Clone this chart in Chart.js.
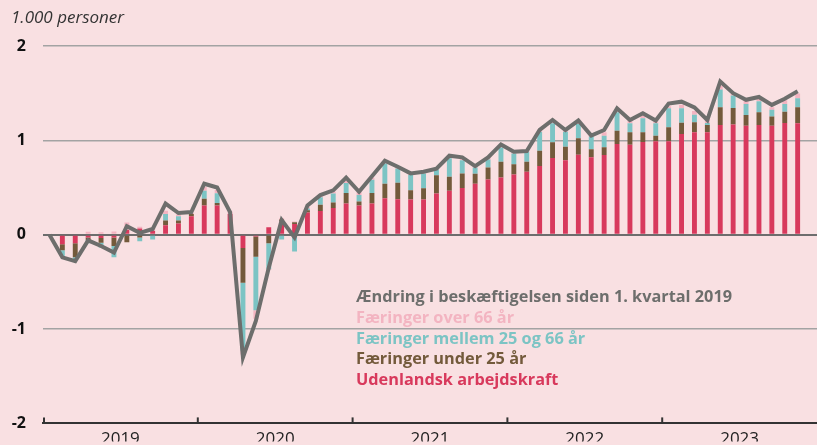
<!DOCTYPE html>
<html>
<head>
<meta charset="utf-8">
<script src="https://cdn.jsdelivr.net/npm/chart.js@4/dist/chart.umd.min.js"></script>
<style>
  html, body { margin: 0; padding: 0; background: #f9e0e2; overflow: hidden; }
  #wrap { width: 817px; height: 445px; overflow: hidden; }
  #c { display: block; }
</style>
</head>
<body>
<div id="wrap"><canvas id="c" width="817" height="450"></canvas></div>
<script>
// ---- data (1.000 personer, change since Q1 2019) ----
const years = ['2019', '2020', '2021', '2022', '2023'];
const monthNames = ['jan','feb','mar','apr','maj','jun','jul','aug','sep','okt','nov','dec'];
const categories = years.flatMap(y => monthNames.map(m => m + ' ' + y));

const udenlandsk = [
  0, -0.10, -0.09, -0.03, -0.035, -0.03, 0.05, 0.065, 0.04, 0.10, 0.12, 0.195,
  0.31, 0.31, 0.22, -0.14, -0.02, 0.078, 0.14, 0.113, 0.234, 0.25, 0.284, 0.33,
  0.31, 0.33, 0.387, 0.376, 0.372, 0.372, 0.436, 0.465, 0.496, 0.54, 0.585, 0.606,
  0.638, 0.667, 0.727, 0.812, 0.79, 0.848, 0.82, 0.844, 0.961, 0.954, 0.982, 0.99,
  0.99, 1.067, 1.085, 1.085, 1.163, 1.167, 1.156, 1.163, 1.156, 1.184, 1.18, null
];
const under25 = [
  0, -0.065, -0.15, -0.03, -0.05, -0.09, -0.08, -0.03, 0, 0.05, 0.03, 0.025,
  0.07, 0.025, 0, -0.37, -0.215, -0.09, 0.02, 0.018, 0.025, 0.067, 0.057, 0.113,
  0.043, 0.113, 0.152, 0.174, 0.10, 0.12, 0.195, 0.149, 0.152, 0.106, 0.128, 0.167,
  0.11, 0.106, 0.163, 0.167, 0.142, 0.174, 0.085, 0.082, 0.142, 0.131, 0.103, 0.06,
  0.149, 0.12, 0.106, 0.078, 0.188, 0.177, 0.113, 0.135, 0.096, 0.12, 0.17, null
];
const mellem25og66 = [
  0, -0.06, -0.02, -0.03, -0.05, -0.12, 0, -0.04, -0.05, 0.07, 0.045, 0,
  0.085, 0.105, 0, -0.72, -0.565, -0.275, -0.05, -0.177, 0.02, 0.08, 0.096, 0.106,
  0.067, 0.14, 0.216, 0.152, 0.16, 0.156, 0.06, 0.195, 0.14, 0.067, 0.085, 0.152,
  0.113, 0.106, 0.202, 0.202, 0.16, 0.152, 0.135, 0.124, 0.195, 0.096, 0.149, 0.131,
  0.202, 0.152, 0.08, 0.02, 0.188, 0.131, 0.117, 0.117, 0.071, 0.082, 0.096, null
];
const over66 = [
  0, 0, 0, 0.03, 0.025, 0.035, 0.08, 0.02, 0.03, 0.035, 0.02, 0.01,
  0.04, 0.035, 0.025, -0.04, -0.09, -0.01, 0.015, 0.01, 0.02, 0.025, 0.018, 0.02,
  0.035, 0.02, 0.025, 0.01, 0.01, 0.01, 0.01, 0.02, 0.02, 0.01, 0.02, 0.02,
  0.02, 0.01, 0.02, 0.025, 0.015, 0.02, 0.01, 0.035, 0.02, 0.028, 0.03, 0.02,
  0.02, 0.039, 0.04, 0.04, 0.04, 0.02, 0.035, 0.025, 0.028, 0.04, 0.05, null
];
const aendring = [
  0, -0.24, -0.28, -0.06, -0.12, -0.19, 0.09, 0.02, 0.06, 0.33, 0.23, 0.24,
  0.54, 0.50, 0.24, -1.30, -0.915, -0.35, 0.155, -0.028, 0.31, 0.42, 0.47, 0.605,
  0.455, 0.62, 0.785, 0.72, 0.65, 0.667, 0.70, 0.837, 0.82, 0.727, 0.82, 0.957,
  0.88, 0.887, 1.11, 1.216, 1.11, 1.21, 1.05, 1.11, 1.34, 1.216, 1.287, 1.21,
  1.39, 1.41, 1.35, 1.216, 1.624, 1.50, 1.43, 1.46, 1.376, 1.44, 1.52, null
];
const yTickValues = [-2, -1, 0, 1, 2];

const legendLabels = [
  'Ændring i beskæftigelsen siden 1. kvartal 2019',
  'Færinger over 66 år',
  'Færinger mellem 25 og 66 år',
  'Færinger under 25 år',
  'Udenlandsk arbejdskraft'
];
const unitLabel = '1.000 personer';

// ---- styles ----
const C_BG = '#f9e0e2';
const C_LINE = '#6d6e6c';
const C_PINK = '#f3b4c1';
const C_TEAL = '#7cc4c4';
const C_BROWN = '#735a3b';
const C_RED = '#d8395c';
const FONT = "'Open Sans', 'DejaVu Sans', sans-serif";

const bgPlugin = {
  id: 'bg',
  beforeDraw(chart) {
    const ctx = chart.ctx;
    ctx.save();
    ctx.fillStyle = C_BG;
    ctx.fillRect(0, 0, chart.width, chart.height);
    ctx.restore();
  }
};

const extrasPlugin = {
  id: 'extras',
  afterDraw(chart) {
    const ctx = chart.ctx;
    const xs = chart.scales.x;
    const area = chart.chartArea;
    ctx.save();
    // unit label
    ctx.font = "italic 17px " + FONT;
    ctx.fillStyle = '#333333';
    ctx.textBaseline = 'middle';
    ctx.textAlign = 'left';
    ctx.fillText(unitLabel, 11, 18);
    // year boundary ticks (upward from the axis)
    const step = xs.getPixelForValue(1) - xs.getPixelForValue(0);
    ctx.strokeStyle = '#333333';
    ctx.lineWidth = 2;
    for (let k = 0; k < years.length; k++) {
      const x = xs.getPixelForValue(k * 12) - step / 2 + (k === 0 ? 1 : 0);
      ctx.beginPath();
      ctx.moveTo(x, area.bottom);
      ctx.lineTo(x, area.bottom - 6);
      ctx.stroke();
    }
    // legend (text only, coloured)
    const colors = [C_LINE, C_PINK, C_TEAL, C_BROWN, C_RED];
    const ys = [297, 318, 339, 359.5, 380];
    ctx.font = "bold 16.3px " + FONT;
    ctx.textBaseline = 'middle';
    legendLabels.forEach((t, i) => {
      ctx.fillStyle = colors[i];
      ctx.fillText(t, 356, ys[i]);
    });
    ctx.restore();
  }
};

new Chart(document.getElementById('c'), {
  data: {
    labels: categories,
    datasets: [
      { type: 'line', label: legendLabels[0], data: aendring, stack: 'line',
        borderColor: C_LINE, borderWidth: 4, pointRadius: 0, tension: 0, fill: false },
      { type: 'bar', label: legendLabels[4], data: udenlandsk, backgroundColor: C_RED, stack: 'b' },
      { type: 'bar', label: legendLabels[3], data: under25, backgroundColor: C_BROWN, stack: 'b' },
      { type: 'bar', label: legendLabels[2], data: mellem25og66, backgroundColor: C_TEAL, stack: 'b' },
      { type: 'bar', label: legendLabels[1], data: over66, backgroundColor: C_PINK, stack: 'b' }
    ]
  },
  options: {
    responsive: false,
    animation: false,
    layout: { padding: { top: 46, right: 0, bottom: 0, left: 0 } },
    datasets: { bar: { barPercentage: 0.38, categoryPercentage: 1.0 } },
    plugins: { legend: { display: false }, tooltip: { enabled: false } },
    scales: {
      x: {
        stacked: true,
        offset: true,
        afterFit: (s) => { s.height = 18; },
        grid: { display: true, drawOnChartArea: false, drawTicks: false, color: 'rgba(0,0,0,0)' },
        border: { display: true, color: '#333333', width: 2 },
        ticks: {
          autoSkip: false, maxRotation: 0, minRotation: 0, padding: 6,
          labelOffset: -6.45,
          color: '#222222',
          font: { family: FONT, size: 17 },
          callback: (v, i) => (i % 12 === 6 ? years[Math.floor(i / 12)] : '')
        }
      },
      y: {
        stacked: true,
        min: -2, max: 2,
        afterFit: (s) => { s.width = 43; },
        afterBuildTicks: (s) => { s.ticks = yTickValues.map(v => ({ value: v })); },
        border: { display: false },
        grid: {
          drawTicks: false,
          color: (c) => c.tick && c.tick.value === 0 ? '#6d6d6d' : (c.tick && c.tick.value === -2 ? 'rgba(0,0,0,0)' : '#a3a3a3'),
          lineWidth: (c) => c.tick && c.tick.value === 0 ? 2 : 1.5
        },
        ticks: {
          padding: 17,
          color: '#111111',
          font: { family: FONT, size: 16, weight: 'bold' },
          callback: (v) => String(v)
        }
      }
    }
  },
  plugins: [bgPlugin, extrasPlugin]
});
</script>
</body>
</html>
